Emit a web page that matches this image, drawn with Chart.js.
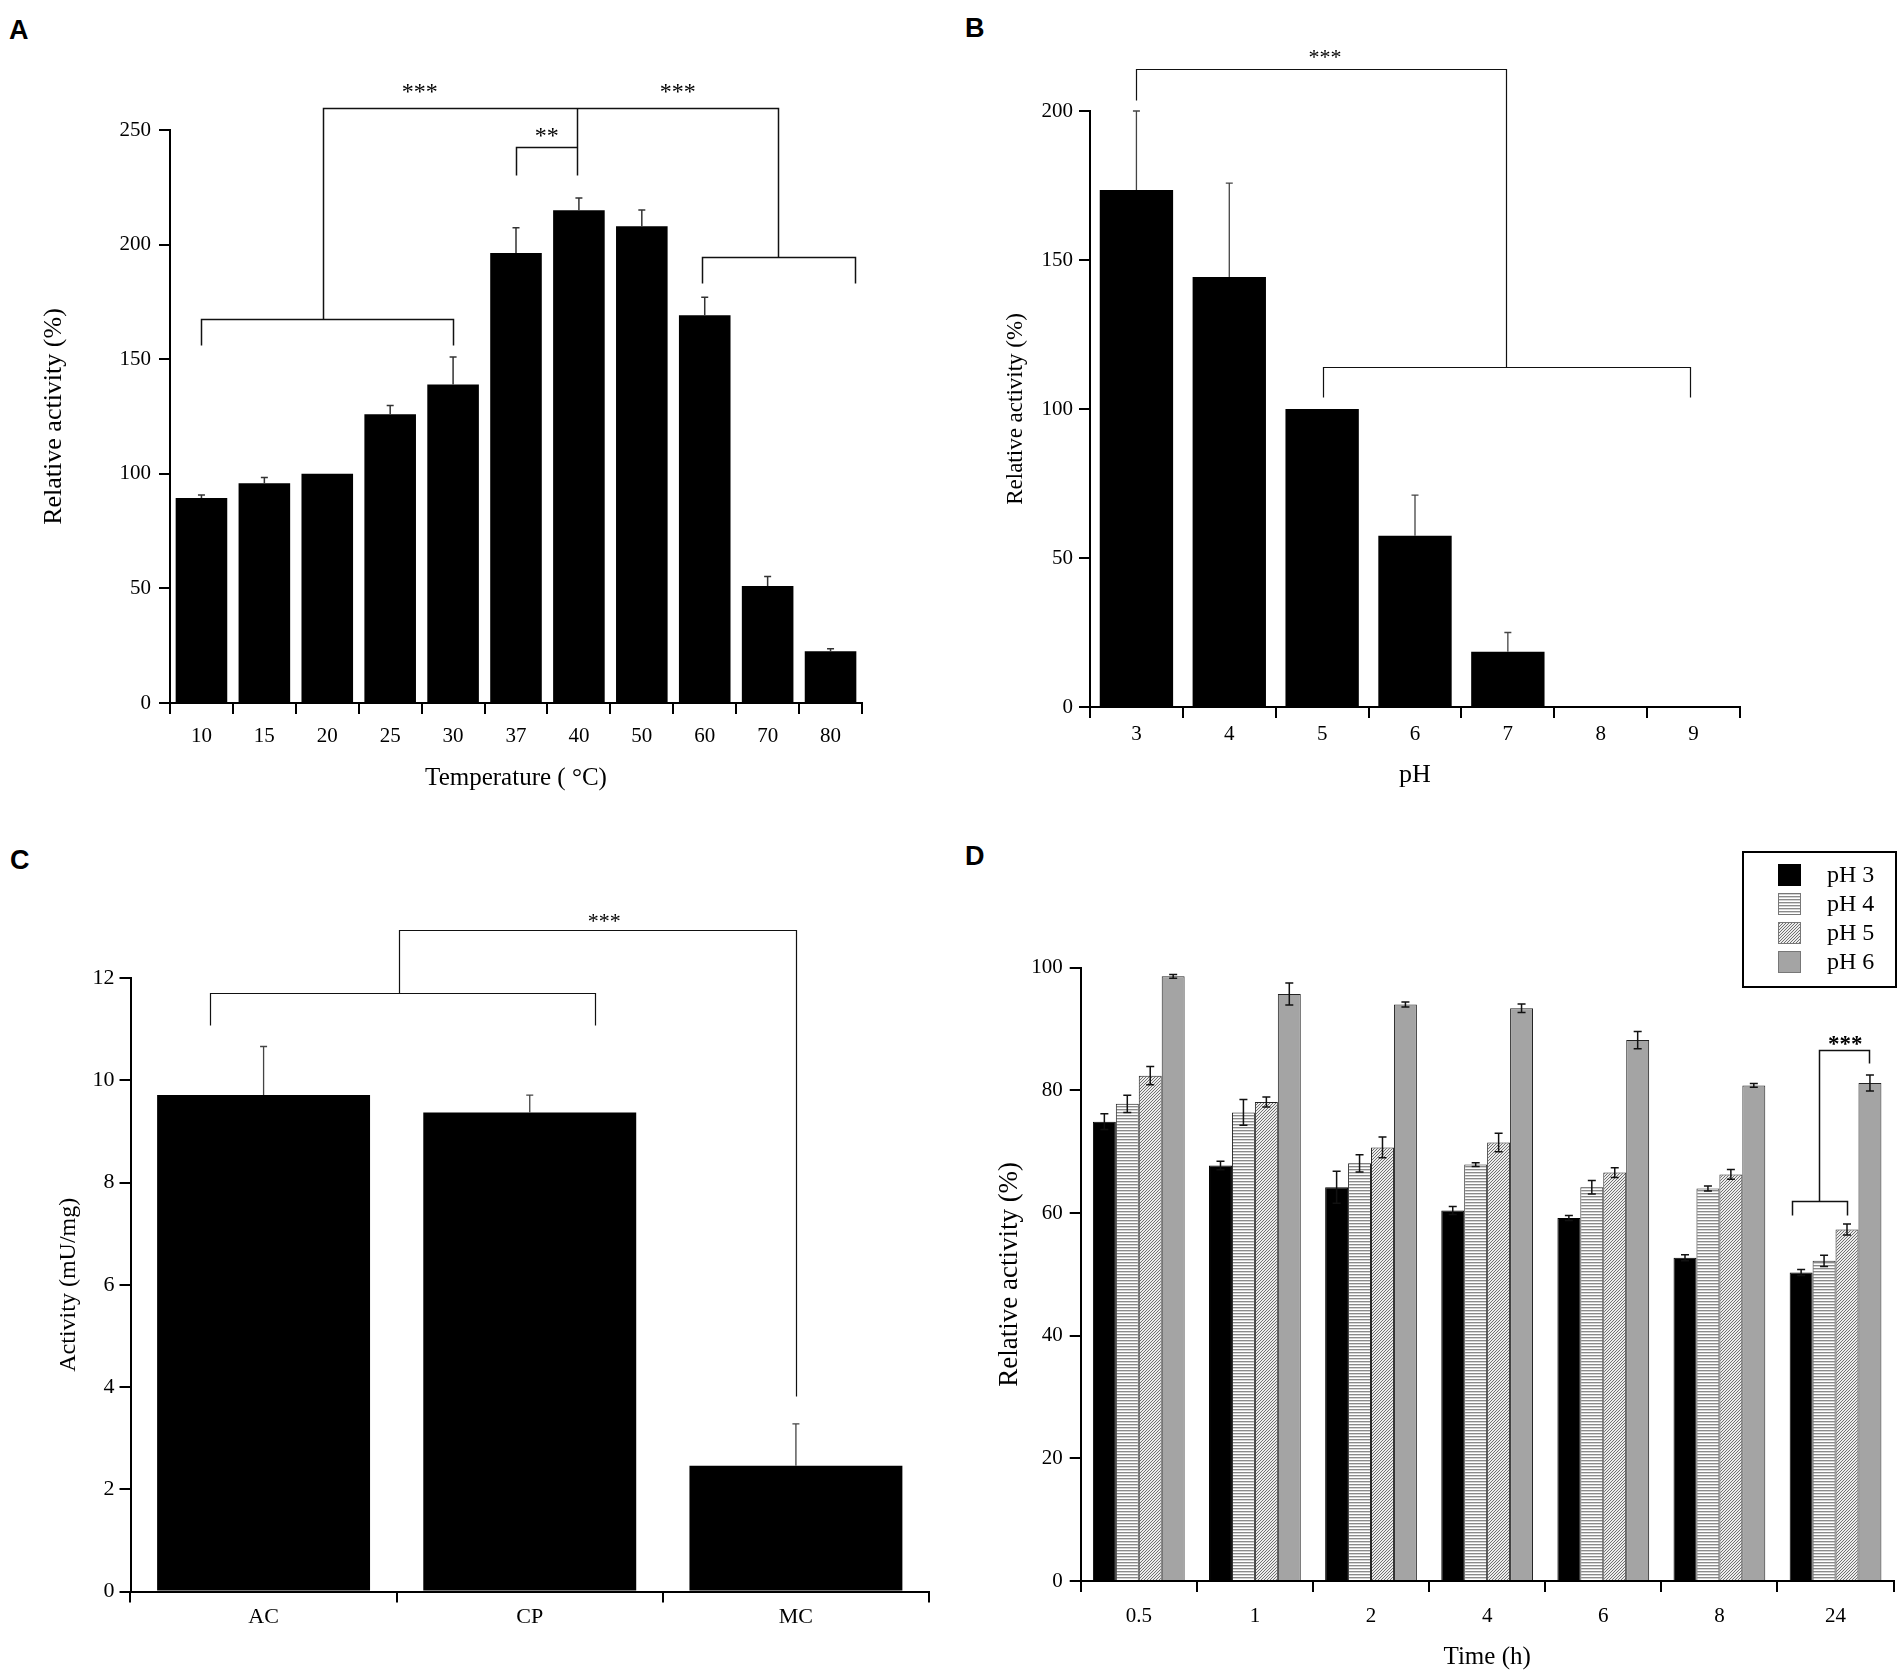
<!DOCTYPE html>
<html>
<head>
<meta charset="utf-8">
<title>Enzyme activity panels</title>
<script src="https://cdn.jsdelivr.net/npm/chart.js@4.4.1/dist/chart.umd.min.js"></script>
<style>
  html, body { margin: 0; padding: 0; background: #fff; }
  body { width: 1904px; height: 1675px; position: relative; overflow: hidden; }
  canvas { position: absolute; }
  .tag { position: absolute; font: bold 27px "Liberation Sans", Arial, sans-serif; line-height: 27px; color: #000; }
</style>
</head>
<body>
<div class="tag" style="left:9px;top:17px">A</div>
<div class="tag" style="left:965px;top:15px">B</div>
<div class="tag" style="left:10px;top:847px">C</div>
<div class="tag" style="left:965px;top:843px">D</div>

<canvas id="chart-a" width="952" height="820" style="left:0;top:0;width:952px;height:820px"></canvas>
<canvas id="chart-b" width="952" height="820" style="left:952px;top:0;width:952px;height:820px"></canvas>
<canvas id="chart-c" width="952" height="845" style="left:0;top:830px;width:952px;height:845px"></canvas>
<canvas id="chart-d" width="952" height="845" style="left:952px;top:830px;width:952px;height:845px"></canvas>

<script>
/* Panel A - temperature */
var tempLabels = ['10', '15', '20', '25', '30', '37', '40', '50', '60', '70', '80'];
var tempActivity = [89.4, 95.9, 100, 126, 139, 196.3, 215, 208, 169.2, 51, 22.6];
var tempError = [1.4, 2.5, 0, 3.8, 12, 11, 5.3, 7.1, 7.8, 4.2, 1.1];

/* Panel B - pH */
var phLabels = ['3', '4', '5', '6', '7', '8', '9'];
var phActivity = [173.5, 144.3, 100, 57.5, 18.5, 0, 0];
var phError = [26.5, 31.5, 0, 13.6, 6.5, 0, 0];

/* Panel C - sources */
var srcLabels = ['AC', 'CP', 'MC'];
var srcActivity = [9.71, 9.37, 2.46];
var srcError = [0.95, 0.34, 0.82];

/* Panel D - stability over time */
var timeLabels = ['0.5', '1', '2', '4', '6', '8', '24'];
var stabSeries = ['pH 3', 'pH 4', 'pH 5', 'pH 6'];
var stabPH3 = [74.9, 67.75, 64.2, 60.4, 59.2, 52.7, 50.3];
var stabPH4 = [77.8, 76.4, 68.1, 67.9, 64.2, 64.0, 52.2];
var stabPH5 = [82.4, 78.1, 70.7, 71.5, 66.6, 66.3, 57.3];
var stabPH6 = [98.6, 95.7, 94.0, 93.4, 88.2, 80.8, 81.2];
var stabErrPH3 = [1.3, 0.7, 2.6, 0.65, 0.4, 0.5, 0.5];
var stabErrPH4 = [1.4, 2.1, 1.4, 0.3, 1.1, 0.4, 0.9];
var stabErrPH5 = [1.5, 0.8, 1.7, 1.5, 0.8, 0.8, 0.9];
var stabErrPH6 = [0.3, 1.8, 0.4, 0.7, 1.4, 0.3, 1.3];

/* significance brackets, in data units: [categoryIndex, value] polylines */
var bracketsA = [
  [[0, 156], [0, 167.6], [4, 167.6], [4, 156]],
  [[1.94, 167.6], [1.94, 259.7], [9.17, 259.7], [9.17, 194.7]],
  [[7.95, 183.2], [7.95, 194.7], [10.39, 194.7], [10.39, 183.2]],
  [[5.0, 230.5], [5.0, 242.7], [5.975, 242.7]],
  [[5.975, 230.5], [5.975, 259.7]]
];
var starsA = [['***', 3.47, 268.5], ['***', 7.57, 268.5], ['**', 5.49, 249.3]];

var bracketsB = [
  [[0, 203.7], [0, 214], [3.98, 214], [3.98, 114]],
  [[2.01, 104], [2.01, 114], [5.96, 114], [5.96, 104]]
];
var starsB = [['***', 2.03, 219.3]];

var bracketsC = [
  [[-0.2, 11.08], [-0.2, 11.71], [1.247, 11.71], [1.247, 11.08]],
  [[0.508, 11.71], [0.508, 12.93], [2.0, 12.93], [2.0, 3.83]]
];
var starsC = [['***', 1.28, 13.19]];

var bracketsD = [
  [[5.626, 59.7], [5.626, 62.0], [6.10, 62.0], [6.10, 59.7]],
  [[5.861, 62.0], [5.861, 86.6], [6.289, 86.6], [6.289, 84.4]]
];
var starsD = [['***', 6.083, 88.2]];

var SERIF = '"Liberation Serif", "Times New Roman", serif';
Chart.defaults.font.family = SERIF;
Chart.defaults.color = '#000';

/* fill patterns for panel D */
function tile(w, h, paint) {
  var c = document.createElement('canvas');
  c.width = w; c.height = h;
  var g = c.getContext('2d');
  paint(g);
  return g.createPattern(c, 'repeat');
}
var stripeFill = tile(6, 3, function (g) {
  g.fillStyle = '#fff'; g.fillRect(0, 0, 6, 3);
  g.fillStyle = '#8a8a8a'; g.fillRect(0, 0, 6, 1);
  g.fillStyle = '#d4d4d4'; g.fillRect(0, 1, 6, 1);
});
var hatchFill = tile(3, 3, function (g) {
  g.fillStyle = '#ececec'; g.fillRect(0, 0, 3, 3);
  g.fillStyle = '#707070';
  g.fillRect(2, 0, 1, 1); g.fillRect(1, 1, 1, 1); g.fillRect(0, 2, 1, 1);
});

/* error bars drawn from the value scale */
var errorBars = {
  id: 'errorBars',
  afterDatasetsDraw: function (chart, args, opts) {
    var ctx = chart.ctx;
    var yScale = chart.scales.y;
    ctx.save();
    ctx.strokeStyle = opts.color || '#000';
    ctx.lineWidth = opts.width || 1.5;
    chart.data.datasets.forEach(function (ds, di) {
      if (!ds.errors) return;
      var meta = chart.getDatasetMeta(di);
      meta.data.forEach(function (bar, i) {
        var e = ds.errors[i];
        if (!e) return;
        var v = ds.data[i];
        var top = yScale.getPixelForValue(v + e);
        var bot = opts.both ? yScale.getPixelForValue(v - e) : bar.y;
        var half = opts.cap / 2;
        ctx.beginPath();
        ctx.moveTo(bar.x, bot); ctx.lineTo(bar.x, top);
        ctx.moveTo(bar.x - half, top); ctx.lineTo(bar.x + half, top);
        if (opts.both) { ctx.moveTo(bar.x - half, bot); ctx.lineTo(bar.x + half, bot); }
        ctx.stroke();
      });
    });
    ctx.restore();
  }
};

/* bracket lines + stars, positioned via the chart scales */
var brackets = {
  id: 'brackets',
  afterDraw: function (chart, args, opts) {
    if (!opts.lines) return;
    var ctx = chart.ctx, xs = chart.scales.x, ys = chart.scales.y;
    ctx.save();
    ctx.strokeStyle = opts.color;
    ctx.lineWidth = opts.width;
    opts.lines.forEach(function (pts) {
      ctx.beginPath();
      pts.forEach(function (p, k) {
        var px = Math.round(xs.getPixelForValue(p[0])) + 0.5;
        var py = Math.round(ys.getPixelForValue(p[1])) + 0.5;
        if (k === 0) ctx.moveTo(px, py); else ctx.lineTo(px, py);
      });
      ctx.stroke();
    });
    ctx.fillStyle = '#000';
    ctx.font = opts.font;
    ctx.textAlign = 'center';
    ctx.textBaseline = 'alphabetic';
    opts.stars.forEach(function (s) {
      ctx.fillText(s[0], xs.getPixelForValue(s[1]), ys.getPixelForValue(s[2]) + opts.starShift);
    });
    ctx.restore();
  }
};

/* boxed legend for panel D */
var boxLegend = {
  id: 'boxLegend',
  afterDraw: function (chart, args, opts) {
    if (!opts.display) return;
    var ctx = chart.ctx;
    ctx.save();
    ctx.lineWidth = 2;
    ctx.strokeStyle = '#000';
    ctx.strokeRect(opts.x, opts.y, opts.w, opts.h);
    ctx.font = opts.font;
    ctx.textBaseline = 'middle';
    ctx.textAlign = 'left';
    chart.data.datasets.forEach(function (ds, i) {
      var sy = opts.y + opts.first + i * opts.step;
      ctx.fillStyle = ds.backgroundColor;
      ctx.fillRect(opts.x + opts.swX, sy, opts.swW, opts.swH);
      ctx.lineWidth = 1;
      ctx.strokeStyle = i === 0 ? '#000' : '#777';
      ctx.strokeRect(opts.x + opts.swX + 0.5, sy + 0.5, opts.swW - 1, opts.swH - 1);
      ctx.fillStyle = '#000';
      ctx.fillText(ds.label, opts.x + opts.txX, sy + opts.swH / 2 + 1);
    });
    ctx.restore();
  }
};

function yAxis(max, step, width, title, titleSize, titlePad, tickSize, tickPad) {
  return {
    min: 0, max: max,
    ticks: { stepSize: step, color: '#000', font: { size: tickSize }, padding: tickPad },
    grid: { drawOnChartArea: false, drawTicks: true, tickLength: 11, color: '#000', lineWidth: 2 },
    border: { display: true, color: '#000', width: 2 },
    title: { display: true, text: title, color: '#000', font: { size: titleSize }, padding: { top: titlePad, bottom: 0 } },
    afterFit: function (s) { s.width = width; }
  };
}

function xAxis(height, title, titleSize, titlePad, tickSize, tickPad) {
  return {
    ticks: { color: '#000', font: { size: tickSize }, padding: tickPad, maxRotation: 0, autoSkip: false },
    grid: { offset: true, drawOnChartArea: false, drawTicks: true, tickLength: 11, color: '#000', lineWidth: 2 },
    border: { display: true, color: '#000', width: 2 },
    title: title
      ? { display: true, text: title, color: '#000', font: { size: titleSize }, padding: { top: 0, bottom: titlePad } }
      : { display: false },
    afterFit: function (s) { s.height = height; }
  };
}

function baseOptions(pad, scales, extra) {
  var plugins = { legend: { display: false }, tooltip: { enabled: false } };
  Object.keys(extra).forEach(function (k) { plugins[k] = extra[k]; });
  return {
    responsive: false,
    animation: false,
    devicePixelRatio: 1,
    layout: { padding: pad },
    plugins: plugins,
    scales: scales
  };
}

var bracketStyle = function (lines, stars, font, width) {
  return { lines: lines, stars: stars, color: '#111', width: width, font: font, starShift: 11 };
};

new Chart(document.getElementById('chart-a'), {
  type: 'bar',
  data: {
    labels: tempLabels,
    datasets: [{ data: tempActivity, errors: tempError, backgroundColor: '#000', borderWidth: 0,
                 barPercentage: 0.82, categoryPercentage: 1 }]
  },
  options: baseOptions({ left: 0, top: 130, right: 90, bottom: 0 }, {
    x: xAxis(117, 'Temperature ( °C)', 25, 27, 21, 10),
    y: yAxis(250, 50, 170, 'Relative activity (%)', 26, 39, 21, 8)
  }, {
    errorBars: { color: '#333', width: 1.5, cap: 7, both: false },
    brackets: bracketStyle(bracketsA, starsA, '24px ' + SERIF, 1.5)
  }),
  plugins: [errorBars, brackets]
});

new Chart(document.getElementById('chart-b'), {
  type: 'bar',
  data: {
    labels: phLabels,
    datasets: [{ data: phActivity, errors: phError, backgroundColor: '#000', borderWidth: 0,
                 barPercentage: 0.79, categoryPercentage: 1 }]
  },
  options: baseOptions({ left: 0, top: 111, right: 164, bottom: 0 }, {
    x: xAxis(113, 'pH', 26, 29, 21, 4),
    y: yAxis(200, 50, 138, 'Relative activity (%)', 23, 50, 21, 6)
  }, {
    errorBars: { color: '#444', width: 1.3, cap: 7, both: false },
    brackets: bracketStyle(bracketsB, starsB, '22px ' + SERIF, 1.2)
  }),
  plugins: [errorBars, brackets]
});

new Chart(document.getElementById('chart-c'), {
  type: 'bar',
  data: {
    labels: srcLabels,
    datasets: [{ data: srcActivity, errors: srcError, backgroundColor: '#000', borderWidth: 0,
                 barPercentage: 0.8, categoryPercentage: 1 }]
  },
  options: baseOptions({ left: 0, top: 148, right: 23, bottom: 0 }, {
    x: xAxis(83.5, null, 0, 0, 22, 2),
    y: yAxis(12, 2, 130.5, 'Activity (mU/mg)', 24, 54, 22, 5)
  }, {
    errorBars: { color: '#444', width: 1.3, cap: 7, both: false },
    brackets: bracketStyle(bracketsC, starsC, '22px ' + SERIF, 1.2)
  }),
  plugins: [errorBars, brackets]
});

new Chart(document.getElementById('chart-d'), {
  type: 'bar',
  data: {
    labels: timeLabels,
    datasets: [
      { label: stabSeries[0], data: stabPH3, errors: stabErrPH3, backgroundColor: '#000', borderColor: '#000', borderWidth: 1 },
      { label: stabSeries[1], data: stabPH4, errors: stabErrPH4, backgroundColor: stripeFill, borderColor: '#222', borderWidth: 1 },
      { label: stabSeries[2], data: stabPH5, errors: stabErrPH5, backgroundColor: hatchFill, borderColor: '#222', borderWidth: 1 },
      { label: stabSeries[3], data: stabPH6, errors: stabErrPH6, backgroundColor: '#a4a4a4', borderColor: '#222', borderWidth: 1 }
    ]
  },
  options: (function () {
    var o = baseOptions({ left: 0, top: 137.7, right: 10.4, bottom: 0 }, {
      x: xAxis(94, 'Time (h)', 25, 3, 21, 12),
      y: yAxis(100, 20, 128.7, 'Relative activity (%)', 27, 42, 21, 7)
    }, {
      errorBars: { color: '#111', width: 1.5, cap: 8, both: true },
      brackets: bracketStyle(bracketsD, starsD, 'bold 23px ' + SERIF, 1.5),
      boxLegend: { display: true, x: 791, y: 22, w: 153, h: 135, first: 12, step: 29,
                   swX: 35, swW: 23, swH: 22, txX: 84, font: '24px ' + SERIF }
    });
    o.datasets = { bar: { categoryPercentage: 0.79, barPercentage: 1 } };
    return o;
  })(),
  plugins: [errorBars, brackets, boxLegend]
});
</script>
</body>
</html>
